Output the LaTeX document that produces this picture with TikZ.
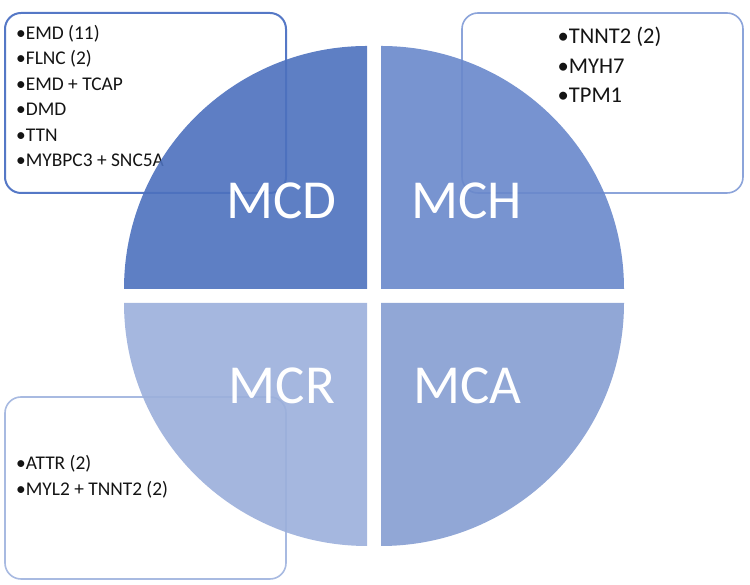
\documentclass[tikz,border=0pt]{standalone}
\usepackage{fontspec}
\setmainfont{Carlito}
\begin{document}
\begin{tikzpicture}[x=1pt,y=1pt,
  boxA/.style={draw=boxAc, line width=2pt, rounded corners=16pt, fill=white, minimum width=281pt, minimum height=180pt, inner sep=0pt},
  boxB/.style={draw=boxBc, line width=1.6pt, rounded corners=16pt, fill=white, minimum width=281pt, minimum height=180pt, inner sep=0pt},
  boxC/.style={draw=boxCc, line width=1.6pt, rounded corners=16pt, fill=white, minimum width=281pt, minimum height=182pt, inner sep=0pt},
  itemS/.style={anchor=base west, inner sep=0pt, text=black!92, font=\fontsize{19.4}{22}\selectfont},
  itemL/.style={anchor=base west, inner sep=0pt, text=black!92, font=\fontsize{22.5}{26}\selectfont},
  quad/.style={fill opacity=0.9},
  qlabel/.style={anchor=base, inner sep=0pt, text=white, font=\fontsize{55}{60}\selectfont}]
\definecolor{boxAc}{HTML}{5578C6}
\definecolor{boxBc}{HTML}{8CA4DA}
\definecolor{boxCc}{HTML}{A8BAE1}
\definecolor{qTL}{HTML}{4D71BE}
\definecolor{qTR}{HTML}{6988CB}
\definecolor{qBL}{HTML}{9BAFDB}
\definecolor{qBR}{HTML}{859DD1}
\useasboundingbox (0,0) rectangle (750,585);
% boxes
\node[boxA] (b1) at (145.5,482) {};
\node[boxB] (b2) at (602.5,482) {};
\node[boxC] (b3) at (145.5,97) {};
% box texts
\node[itemS] (t1) at (16,545.7) {•EMD (11)};
\node[itemS] (t2) at (16,520.2) {•FLNC (2)};
\node[itemS] (t3) at (16,494.7) {•EMD + TCAP};
\node[itemS] (t4) at (16,469.2) {•DMD};
\node[itemS] (t5) at (16,443.7) {•TTN};
\node[itemS] (t6) at (16,418.2) {•MYBPC3 + SNC5A};
\node[itemL] (h1) at (557.5,541.7) {•TNNT2 (2)};
\node[itemL] (h2) at (557.5,511.7) {•MYH7};
\node[itemL] (h3) at (557.5,482.3) {•TPM1};
\node[itemS] (r1) at (16,115) {•ATTR (2)};
\node[itemS] (r2) at (16,89) {•MYL2 + TNNT2 (2)};
% quadrants
\fill[qTL,quad] (367,296) -- ++(-243,0) arc[start angle=180, end angle=90, radius=243pt] -- cycle;
\fill[qTR,quad] (381,296) -- ++(0,243) arc[start angle=90, end angle=0, radius=243pt] -- cycle;
\fill[qBL,quad] (367,282) -- ++(-243,0) arc[start angle=180, end angle=270, radius=243pt] -- cycle;
\fill[qBR,quad] (381,282) -- ++(243,0) arc[start angle=0, end angle=-90, radius=243pt] -- cycle;
% labels
\node[qlabel] (mcd) at (281.5,366.3) {MCD};
\node[qlabel] (mch) at (466.5,366.3) {MCH};
\node[qlabel] (mcr) at (282,181) {MCR};
\node[qlabel] (mca) at (467.5,181) {MCA};
\end{tikzpicture}
\end{document}
